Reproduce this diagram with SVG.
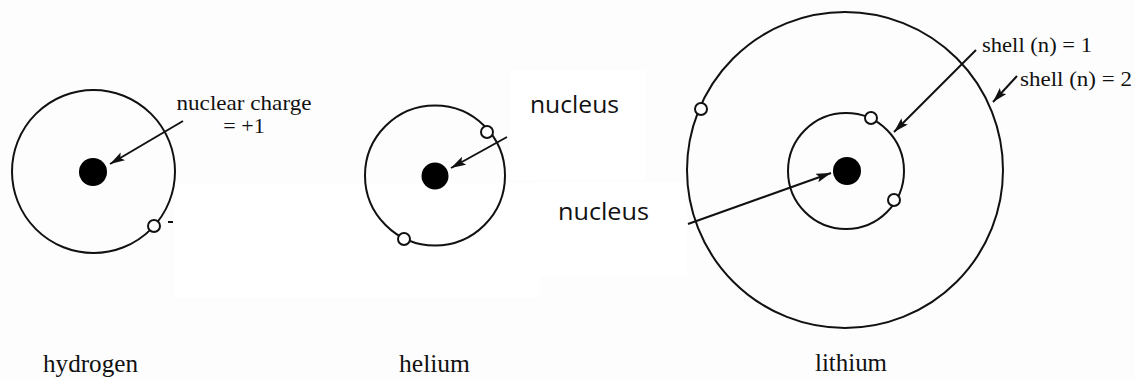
<svg xmlns="http://www.w3.org/2000/svg" width="1135" height="379" viewBox="0 0 1135 379">
<style>
.orbit{fill:none;stroke:#111;stroke-width:2}
.nuc{fill:#000}
.el{fill:#fff;stroke:#111;stroke-width:2}
.arr{fill:none;stroke:#111;stroke-width:2;marker-end:url(#ah)}
.lbl{font-family:"Liberation Serif","Times New Roman",serif;fill:#111}
.hand{font-family:"Open Sans","Noto Sans",sans-serif;font-weight:400;fill:#111}
</style>
<defs>
<marker id="ah" markerUnits="userSpaceOnUse" markerWidth="16" markerHeight="10" refX="15" refY="4.5" orient="auto">
<path d="M0,0 L15,4.5 L0,9 L3,4.5 z" fill="#111"/>
</marker>
</defs>
<rect x="0" y="0" width="1135" height="379" fill="#fdfdfd"/>
<rect x="175" y="183" width="365" height="115" fill="#fff"/>
<rect x="510" y="70" width="135" height="110" fill="#fff"/>
<rect x="537" y="182" width="150" height="95" fill="#fff"/>
<g id="hydrogen">
<circle class="orbit" cx="93.5" cy="171.5" r="81.5"/>
<circle class="nuc" cx="93" cy="172" r="14"/>
<circle class="el" cx="154" cy="226" r="6"/>
<line x1="168" y1="222" x2="173" y2="222" stroke="#111" stroke-width="2"/>
<text class="lbl" x="244" y="110" font-size="22" text-anchor="middle" textLength="135" lengthAdjust="spacingAndGlyphs">nuclear charge</text>
<text class="lbl" x="244" y="133" font-size="22" text-anchor="middle">=  +1</text>
<text class="lbl" x="43" y="372" font-size="25" textLength="95" lengthAdjust="spacingAndGlyphs">hydrogen</text>
</g>
<g id="helium">
<circle class="orbit" cx="435" cy="175.5" r="70"/>
<circle class="nuc" cx="435" cy="176" r="13.5"/>
<circle class="el" cx="487" cy="132" r="6"/>
<circle class="el" cx="404" cy="239" r="6"/>
<text class="hand" x="530" y="113" font-size="24" textLength="89" lengthAdjust="spacingAndGlyphs">nucleus</text>
<text class="hand" x="558" y="220" font-size="24" textLength="91" lengthAdjust="spacingAndGlyphs">nucleus</text>
<text class="lbl" x="399" y="372" font-size="25" textLength="71" lengthAdjust="spacingAndGlyphs">helium</text>
</g>
<g id="lithium">
<circle class="orbit" cx="845" cy="170" r="158"/>
<circle class="orbit" cx="846" cy="171" r="58"/>
<circle class="nuc" cx="847" cy="171" r="14"/>
<circle class="el" cx="701" cy="109" r="6"/>
<circle class="el" cx="871" cy="118" r="6"/>
<circle class="el" cx="894" cy="200" r="6"/>
<text class="lbl" x="982" y="52" font-size="22" textLength="110" lengthAdjust="spacingAndGlyphs">shell (n) = 1</text>
<text class="lbl" x="1020" y="86" font-size="22" textLength="112" lengthAdjust="spacingAndGlyphs">shell (n) = 2</text>
<text class="lbl" x="815" y="371" font-size="25" textLength="72" lengthAdjust="spacingAndGlyphs">lithium</text>
</g>
<g id="connectors">
<line class="arr" x1="183" y1="121" x2="110" y2="164"/>
<line class="arr" x1="507" y1="137" x2="451" y2="168"/>
<line class="arr" x1="688" y1="224" x2="831" y2="173"/>
<line class="arr" x1="976" y1="50" x2="894" y2="132"/>
<line class="arr" x1="1017" y1="76" x2="993" y2="102"/>
</g>
</svg>
